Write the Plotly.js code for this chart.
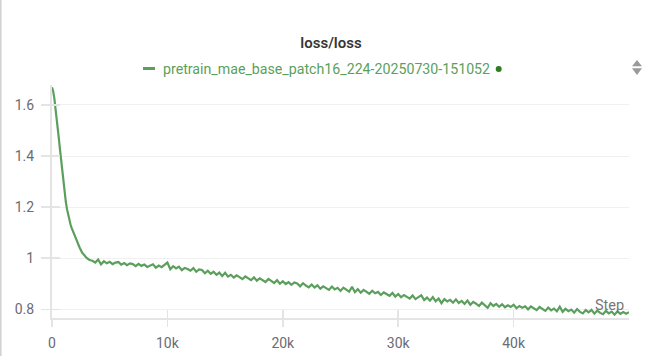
<!DOCTYPE html>
<html>
<head>
<meta charset="utf-8">
<script src="https://cdn.plot.ly/plotly-3.0.1.min.js"></script>
<style>
html,body{margin:0;padding:0;background:#fff;}
#chart{width:648px;height:356px;}
</style>
</head>
<body>
<div id="chart"></div>
<script>
// ---- data ----
const runName = "pretrain_mae_base_patch16_224-20250730-151052";
const chartTitle = "loss/loss";
const xTickVals = [0, 10000, 20000, 30000, 40000];
const xTickText = ["0", "10k", "20k", "30k", "40k"];
const yTickVals = [0.8, 1.0, 1.2, 1.4, 1.6];
const yTickText = ["0.8", "1", "1.2", "1.4", "1.6"];

const steps = [
  0,100,200,300,400,500,600,700,800,900,1000,1100,1200,1300,1400,1500,1600,1700,1800,1900,2000,2200,2400,2600,2800,3000,3250,
  3500,3750,4000,4250,4500,4750,5000,5250,5500,5750,6000,6250,6500,6750,7000,7250,7500,7750,8000,8250,8500,8750,9000,9250,9500,9750,
  10000,10250,10500,10750,11000,11250,11500,11750,12000,12250,12500,12750,13000,13250,13500,13750,14000,14250,14500,14750,
  15000,15250,15500,15750,16000,16250,16500,16750,17000,17250,17500,17750,18000,18250,18500,18750,19000,19250,19500,19750,
  20000,20250,20500,20750,21000,21250,21500,21750,22000,22250,22500,22750,23000,23250,23500,23750,24000,24250,24500,24750,
  25000,25250,25500,25750,26000,26250,26500,26750,27000,27250,27500,27750,28000,28250,28500,28750,29000,29250,29500,29750,
  30000,30250,30500,30750,31000,31250,31500,31750,32000,32250,32500,32750,33000,33250,33500,33750,34000,34250,34500,34750,
  35000,35250,35500,35750,36000,36250,36500,36750,37000,37250,37500,37750,38000,38250,38500,38750,39000,39250,39500,39750,
  40000,40250,40500,40750,41000,41250,41500,41750,42000,42250,42500,42750,43000,43250,43500,43750,44000,44250,44500,44750,
  45000,45250,45500,45750,46000,46250,46500,46750,47000,47250,47500,47750,48000,48250,48500,48750,49000,49250,49500,49750,
  50000
];

const loss = [
  1.669,1.654,1.627,1.591,1.550,1.508,1.466,1.422,1.377,1.333,1.292,1.254,1.220,1.192,1.168,1.149,1.133,1.119,1.107,1.095,1.084,1.062,1.041,1.023,1.010,1.001,0.993,
  0.990,0.983,0.995,0.976,0.988,0.980,0.986,0.977,0.983,0.985,0.975,0.981,0.973,0.980,0.977,0.969,0.978,0.970,0.975,0.966,0.972,0.976,0.963,0.971,0.965,0.974,
  0.983,0.957,0.969,0.960,0.967,0.953,0.962,0.958,0.951,0.961,0.947,0.956,0.954,0.941,0.951,0.939,0.947,0.935,0.944,0.930,
  0.943,0.928,0.935,0.924,0.933,0.926,0.918,0.929,0.921,0.914,0.925,0.912,0.921,0.915,0.907,0.919,0.910,0.903,0.914,0.900,
  0.910,0.899,0.906,0.896,0.905,0.901,0.890,0.902,0.893,0.886,0.897,0.885,0.894,0.881,0.890,0.884,0.876,0.889,0.878,0.884,
  0.872,0.885,0.876,0.869,0.888,0.867,0.879,0.865,0.876,0.870,0.861,0.873,0.863,0.868,0.856,0.866,0.858,0.853,0.864,0.850,
  0.860,0.847,0.856,0.849,0.842,0.854,0.840,0.848,0.855,0.836,0.846,0.834,0.848,0.831,0.842,0.824,0.840,0.831,0.837,0.826,
  0.839,0.825,0.833,0.821,0.834,0.818,0.829,0.822,0.813,0.826,0.817,0.806,0.824,0.813,0.821,0.810,0.820,0.808,0.816,0.809,
  0.818,0.804,0.813,0.806,0.812,0.800,0.811,0.803,0.797,0.809,0.800,0.794,0.807,0.796,0.803,0.792,0.810,0.790,0.802,0.793,
  0.799,0.787,0.801,0.790,0.784,0.797,0.788,0.798,0.783,0.795,0.786,0.781,0.794,0.784,0.791,0.779,0.792,0.782,0.789,0.783,
  0.789
];

// ---- styling ----
const W = 648, H = 356;
const M = {l: 52, r: 19, t: 85, b: 38};
const PW = W - M.l - M.r, PH = H - M.t - M.b;
const px = x => (x - M.l) / PW;          // pixel -> paper x
const py = y => (H - M.b - y) / PH;      // pixel -> paper y

const GREEN = "#5b9f5d";
const GRAY_LINE = "#e4e4e4";
const TICK_FONT = {family: "Roboto, 'Noto Sans', sans-serif", size: 14, color: "#6b6b73"};

const trace = {
  x: steps, y: loss, type: "scatter", mode: "lines",
  line: {color: GREEN, width: 2.2},
  hoverinfo: "skip", showlegend: false
};
const dummy = {x: [], y: [], xaxis: "x2", yaxis: "y2", type: "scatter", mode: "lines", showlegend: false, hoverinfo: "skip"};

const xRange = [0, 50000];
const yRange = [0.766, 1.678];

const layout = {
  width: W, height: H,
  margin: M,
  paper_bgcolor: "#fff", plot_bgcolor: "#fff",
  showlegend: false,
  font: {family: "Roboto, 'Noto Sans', sans-serif"},
  title: {
    text: chartTitle,
    font: {family: "Roboto, 'Noto Sans', sans-serif", size: 15, color: "#363636", weight: 600},
    x: 331 / W, xanchor: "center", xref: "container",
    y: 1 - 43 / H, yanchor: "middle", yref: "container"
  },
  xaxis: {
    range: xRange, tickvals: xTickVals, ticktext: xTickText,
    showgrid: false, zeroline: false,
    showline: true, linecolor: GRAY_LINE, linewidth: 2,
    ticks: "outside", ticklen: 7, tickwidth: 1.5, tickcolor: GRAY_LINE,
    tickfont: TICK_FONT, ticklabelstandoff: 4,
    fixedrange: true
  },
  yaxis: {
    range: yRange, tickvals: yTickVals, ticktext: yTickText,
    showgrid: true, gridcolor: "#f0f0f0", gridwidth: 1, zeroline: false,
    showline: true, linecolor: GRAY_LINE, linewidth: 2,
    ticks: "outside", ticklen: 9, tickwidth: 1.5, tickcolor: GRAY_LINE,
    tickfont: TICK_FONT, ticklabelstandoff: 4,
    fixedrange: true
  },
  xaxis2: {
    overlaying: "x", anchor: "y", side: "bottom",
    range: xRange, tickvals: xTickVals, showticklabels: false,
    showgrid: false, zeroline: false, showline: false,
    ticks: "inside", ticklen: 8, tickwidth: 1.5, tickcolor: GRAY_LINE, fixedrange: true
  },
  yaxis2: {
    overlaying: "y", anchor: "x", side: "left",
    range: yRange, tickvals: yTickVals, showticklabels: false,
    showgrid: false, zeroline: false, showline: false,
    ticks: "inside", ticklen: 8, tickwidth: 1.5, tickcolor: GRAY_LINE, fixedrange: true
  },
  annotations: [
    {
      text: runName, xref: "paper", yref: "paper",
      x: px(160.5), y: py(69), xanchor: "left", yanchor: "middle",
      showarrow: false,
      font: {family: "Roboto, 'Noto Sans', sans-serif", size: 14.2, color: GREEN}
    },
    {
      text: "Step", xref: "paper", yref: "paper",
      x: px(609), y: py(305.5), xanchor: "center", yanchor: "middle",
      showarrow: false,
      font: {family: "Roboto, 'Noto Sans', sans-serif", size: 14.5, color: "#777"}
    }
  ],
  shapes: [
    // legend line
    {type: "line", xref: "paper", yref: "paper", x0: px(143), x1: px(155), y0: py(68.5), y1: py(68.5),
     line: {color: GREEN, width: 3}},
    // legend dot
    {type: "circle", xref: "paper", yref: "paper", x0: px(495.7), x1: px(501.7), y0: py(66), y1: py(72),
     fillcolor: "#2f7d20", line: {width: 0}},
    // up/down sort icon
    {type: "path", xref: "paper", yref: "paper",
     path: `M ${px(632)} ${py(66.3)} L ${px(637)} ${py(60)} L ${px(642)} ${py(66.3)} Z`,
     fillcolor: "#9a9a9a", line: {width: 0}},
    {type: "path", xref: "paper", yref: "paper",
     path: `M ${px(632)} ${py(68.3)} L ${px(637)} ${py(75)} L ${px(642)} ${py(68.3)} Z`,
     fillcolor: "#9a9a9a", line: {width: 0}},
    // panel left border
    {type: "line", xref: "paper", yref: "paper", x0: px(0.8), x1: px(0.8), y0: py(0), y1: py(356),
     line: {color: "#d0d0d0", width: 1.5}}
  ]
};

Plotly.newPlot("chart", [trace, dummy], layout, {displayModeBar: false, staticPlot: true});
</script>
</body>
</html>
